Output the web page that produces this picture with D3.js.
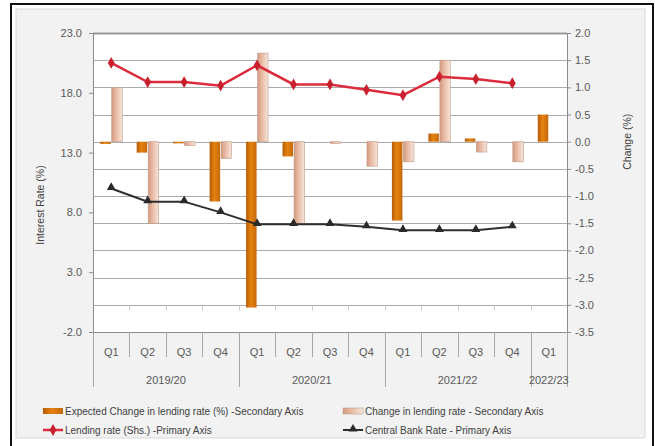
<!DOCTYPE html>
<html>
<head>
<meta charset="utf-8">
<script src="https://cdn.jsdelivr.net/npm/d3@7"></script>
<style>
  html, body { margin: 0; padding: 0; background: #ffffff; }
  svg { display: block; font-family: "Liberation Sans", Arial, sans-serif; }
</style>
</head>
<body>
<svg id="chart" width="655" height="446"></svg>
<script>
// Quarterly periods (fiscal year, quarter)
const quarters = ["Q1","Q2","Q3","Q4","Q1","Q2","Q3","Q4","Q1","Q2","Q3","Q4","Q1"];
const periodYears = ["2019/20","2019/20","2019/20","2019/20","2020/21","2020/21","2020/21","2020/21","2021/22","2021/22","2021/22","2021/22","2022/23"];

// Secondary axis series (% change)
const expectedChange = [-0.04, -0.2, -0.03, -1.1, -3.05, -0.27, 0, 0, -1.45, 0.15, 0.06, 0, 0.5];
const actualChange   = [1.0, -1.5, -0.07, -0.31, 1.63, -1.5, -0.03, -0.45, -0.37, 1.5, -0.19, -0.37, null];

// Primary axis series (%)
const lendingRate     = [20.5, 18.9, 18.9, 18.6, 20.3, 18.7, 18.7, 18.25, 17.8, 19.35, 19.15, 18.8, null];
const centralBankRate = [10.0, 8.9, 8.9, 8.0, 7.0, 7.0, 7.0, 6.8, 6.5, 6.5, 6.5, 6.8, null];

// Axis ticks
const leftTicks  = [-2, 3, 8, 13, 18, 23];
const rightTicks = [-3.5, -3.0, -2.5, -2.0, -1.5, -1.0, -0.5, 0.0, 0.5, 1.0, 1.5, 2.0];

const legendLabels = [
  "Expected Change in lending rate (%) -Secondary Axis",
  "Change in lending rate - Secondary Axis",
  "Lending rate (Shs.) -Primary Axis",
  "Central Bank Rate - Primary Axis"
];

const svg = d3.select("#chart");
const plot = { left: 93, right: 567, top: 33, bottom: 332 };

const defs = svg.append("defs");
const darkGrad = defs.append("linearGradient").attr("id", "darkBar").attr("x1", "0").attr("x2", "1").attr("y1", "0").attr("y2", "0");
darkGrad.append("stop").attr("offset", "0%").attr("stop-color", "#b65c06");
darkGrad.append("stop").attr("offset", "45%").attr("stop-color", "#e5820f");
darkGrad.append("stop").attr("offset", "100%").attr("stop-color", "#c4690a");
const lightGrad = defs.append("linearGradient").attr("id", "lightBar").attr("x1", "0").attr("x2", "1").attr("y1", "0").attr("y2", "0");
lightGrad.append("stop").attr("offset", "0%").attr("stop-color", "#d39a80");
lightGrad.append("stop").attr("offset", "40%").attr("stop-color", "#e9b9a2");
lightGrad.append("stop").attr("offset", "100%").attr("stop-color", "#f6e6dc");

// Frame and chart area
svg.append("rect").attr("x", 11).attr("y", 4).attr("width", 642).attr("height", 446)
  .attr("fill", "#ffffff").attr("stroke", "#111").attr("stroke-width", 2);
svg.append("rect").attr("x", 16).attr("y", 9).attr("width", 629).attr("height", 429)
  .attr("fill", "#f2f2f2").attr("stroke", "#dadada").attr("stroke-width", 1);
svg.append("rect").attr("x", plot.left).attr("y", plot.top)
  .attr("width", plot.right - plot.left).attr("height", plot.bottom - plot.top)
  .attr("fill", "#ffffff");

const x = d3.scaleBand().domain(d3.range(quarters.length)).range([plot.left, plot.right]);
const yL = d3.scaleLinear().domain([-2, 23]).range([plot.bottom, plot.top]);
const yR = d3.scaleLinear().domain([-3.5, 2]).range([plot.bottom, plot.top]);
const cx = i => x(i) + x.bandwidth() / 2;

// Gridlines on the secondary scale
svg.append("g").selectAll("line").data(rightTicks).join("line")
  .attr("x1", plot.left).attr("x2", plot.right)
  .attr("y1", d => Math.round(yR(d)) + 0.5).attr("y2", d => Math.round(yR(d)) + 0.5)
  .attr("stroke", d => d === 2 ? "#9a9a9a" : "#ababab").attr("stroke-width", d => d === 2 ? 2 : 1);

// Secondary category axis ticks along the lower band
svg.append("g").selectAll("line").data(d3.range(1, quarters.length)).join("line")
  .attr("x1", i => Math.round(x(i)) + 0.5).attr("x2", i => Math.round(x(i)) + 0.5)
  .attr("y1", yR(-3.0) + 1).attr("y2", yR(-3.0) + 6)
  .attr("stroke", "#cfcfcf");

// Bars
const barW = 10.5;
svg.append("g").selectAll("rect").data(expectedChange).join("rect")
  .attr("x", (d, i) => cx(i) - barW - 0.5)
  .attr("y", d => yR(Math.max(0, d)))
  .attr("width", barW)
  .attr("height", d => Math.abs(yR(d) - yR(0)))
  .attr("fill", "url(#darkBar)");

svg.append("g").selectAll("rect").data(actualChange.map((v, i) => ({ v, i })).filter(d => d.v !== null)).join("rect")
  .attr("x", d => cx(d.i) + 0.5)
  .attr("y", d => yR(Math.max(0, d.v)))
  .attr("width", barW)
  .attr("height", d => Math.abs(yR(d.v) - yR(0)))
  .attr("fill", "url(#lightBar)")
  .attr("stroke", "#bf9c88").attr("stroke-width", 0.6);

// Axes
const leftAxis = d3.axisLeft(yL).tickValues(leftTicks).tickSize(4).tickPadding(7).tickFormat(d => d.toFixed(1));
const gL = svg.append("g").attr("transform", `translate(${plot.left},0)`).call(leftAxis);
const rightAxis = d3.axisRight(yR).tickValues(rightTicks).tickSize(4).tickPadding(4).tickFormat(d => d.toFixed(1));
const gR = svg.append("g").attr("transform", `translate(${plot.right},0)`).call(rightAxis);
[gL, gR].forEach(g => {
  g.select(".domain").attr("stroke", "#8c8c8c");
  g.selectAll(".tick line").attr("stroke", "#8c8c8c");
  g.selectAll(".tick text").attr("fill", "#595959").style("font-size", "11px");
});

// Category axis baseline
svg.append("line").attr("x1", plot.left).attr("x2", plot.right)
  .attr("y1", plot.bottom + 0.5).attr("y2", plot.bottom + 0.5).attr("stroke", "#8c8c8c");

// Year groups from the period list
const yearGroups = [];
periodYears.forEach((yr, i) => {
  const last = yearGroups[yearGroups.length - 1];
  if (last && last.year === yr) last.end = i; else yearGroups.push({ year: yr, start: i, end: i });
});
const yearBounds = new Set(yearGroups.map(g => g.start));

const catAxis = svg.append("g");
d3.range(quarters.length + 1).forEach(i => {
  const xx = i < quarters.length ? x(i) : plot.right;
  const long = yearBounds.has(i) || i === quarters.length;
  catAxis.append("line")
    .attr("x1", Math.round(xx) + 0.5).attr("x2", Math.round(xx) + 0.5)
    .attr("y1", plot.bottom).attr("y2", long ? 387 : 357)
    .attr("stroke", "#a6a6a6");
});
catAxis.selectAll("text.q").data(quarters).join("text").attr("class", "q")
  .attr("x", (d, i) => cx(i)).attr("y", 356)
  .attr("text-anchor", "middle").attr("fill", "#595959").style("font-size", "11px")
  .text(d => d);
catAxis.selectAll("text.yr").data(yearGroups).join("text").attr("class", "yr")
  .attr("x", g => (x(g.start) + x(g.end) + x.bandwidth()) / 2).attr("y", 384)
  .attr("text-anchor", "middle").attr("fill", "#595959").style("font-size", "11px")
  .text(g => g.year);

// Lines
const lendingPts = lendingRate.map((v, i) => ({ v, i })).filter(d => d.v !== null);
const cbrPts = centralBankRate.map((v, i) => ({ v, i })).filter(d => d.v !== null);
const lineGen = d3.line().x(d => cx(d.i)).y(d => yL(d.v));

svg.append("path").datum(lendingPts).attr("d", lineGen)
  .attr("fill", "none").attr("stroke", "#dc2c3c").attr("stroke-width", 2.5);
svg.append("g").selectAll("path").data(lendingPts).join("path")
  .attr("d", d3.symbol(d3.symbolDiamond, 40))
  .attr("transform", d => `translate(${cx(d.i)},${yL(d.v)})`)
  .attr("fill", "#c8202f");

svg.append("path").datum(cbrPts).attr("d", lineGen)
  .attr("fill", "none").attr("stroke", "#2e2e2e").attr("stroke-width", 2);
svg.append("g").selectAll("path").data(cbrPts).join("path")
  .attr("d", d3.symbol(d3.symbolTriangle, 34))
  .attr("transform", d => `translate(${cx(d.i)},${yL(d.v) - 1})`)
  .attr("fill", "#2a2a2a");

// Axis titles
svg.append("text").attr("transform", "translate(44,205) rotate(-90)")
  .attr("text-anchor", "middle").attr("fill", "#404040").style("font-size", "10.5px")
  .text("Interest Rate (%)");
svg.append("text").attr("transform", `translate(631,${yR(0)}) rotate(-90)`)
  .attr("text-anchor", "middle").attr("fill", "#404040").style("font-size", "10.5px")
  .text("Change (%)");

// Legend
const legend = svg.append("g").style("font-size", "10px").attr("fill", "#404040");
const lx = [43, 343], ly = [411, 430];
legend.append("rect").attr("x", lx[0]).attr("y", ly[0] - 3).attr("width", 20).attr("height", 6).attr("fill", "url(#darkBar)");
legend.append("rect").attr("x", lx[1]).attr("y", ly[0] - 3).attr("width", 20).attr("height", 6)
  .attr("fill", "url(#lightBar)").attr("stroke", "#bf9c88").attr("stroke-width", 0.6);
legend.append("line").attr("x1", lx[0]).attr("x2", lx[0] + 20).attr("y1", ly[1]).attr("y2", ly[1])
  .attr("stroke", "#dc2c3c").attr("stroke-width", 2.5);
legend.append("path").attr("d", d3.symbol(d3.symbolDiamond, 40)).attr("transform", `translate(${lx[0] + 10},${ly[1]})`).attr("fill", "#c8202f");
legend.append("line").attr("x1", lx[1]).attr("x2", lx[1] + 20).attr("y1", ly[1]).attr("y2", ly[1])
  .attr("stroke", "#2e2e2e").attr("stroke-width", 2);
legend.append("path").attr("d", d3.symbol(d3.symbolTriangle, 34)).attr("transform", `translate(${lx[1] + 10},${ly[1] - 1})`).attr("fill", "#2a2a2a");
[[0, 0], [1, 0], [0, 1], [1, 1]].forEach(([c, r], k) => {
  legend.append("text").attr("x", lx[c] + 22).attr("y", ly[r] + 3.5).text(legendLabels[k]);
});
</script>
</body>
</html>
